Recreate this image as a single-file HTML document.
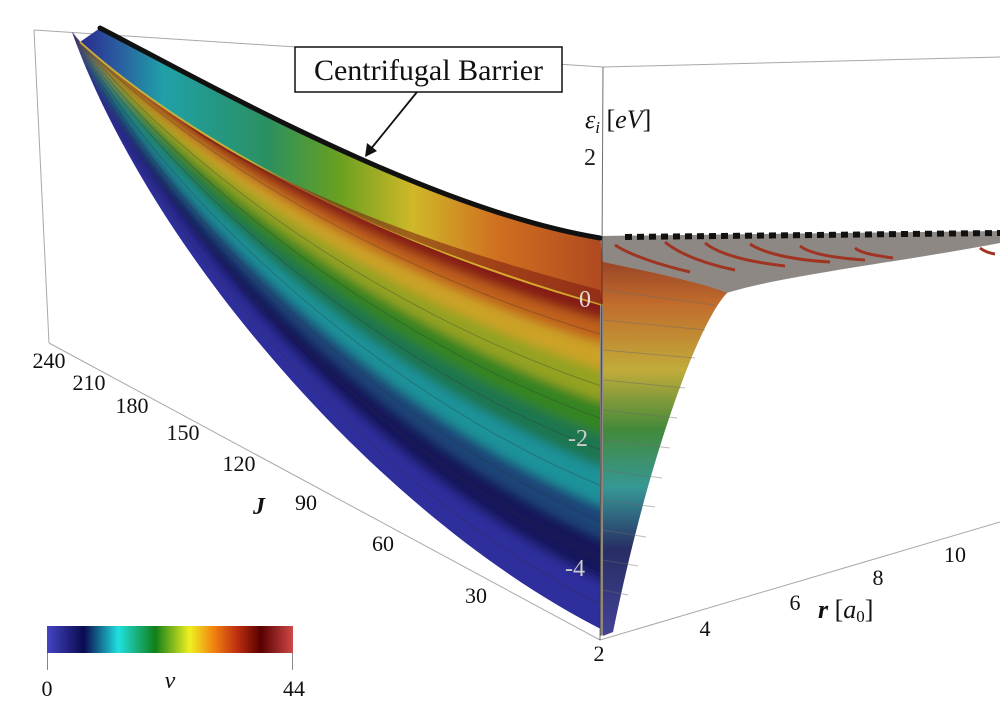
<!DOCTYPE html>
<html><head><meta charset="utf-8"><style>
html,body{margin:0;padding:0;background:#fff;}
#wrap{position:relative;width:1000px;height:718px;overflow:hidden;background:#fff;font-family:"Liberation Serif",serif;}
svg{position:absolute;left:0;top:0;}
</style></head><body><div id="wrap">
<svg width="1000" height="718">
<defs>
<linearGradient id="up" gradientUnits="userSpaceOnUse" x1="80" y1="0" x2="600" y2="0">
<stop offset="0" stop-color="#2a2a90"/>
<stop offset="0.07" stop-color="#2a5aa0"/>
<stop offset="0.16" stop-color="#20a0a8"/>
<stop offset="0.36" stop-color="#2a9060"/>
<stop offset="0.5" stop-color="#6aa020"/>
<stop offset="0.64" stop-color="#d0b828"/>
<stop offset="0.8" stop-color="#d07020"/>
<stop offset="1" stop-color="#b04a20"/>
</linearGradient>
<linearGradient id="rt" gradientUnits="userSpaceOnUse" x1="0" y1="245" x2="0" y2="636">
<stop offset="0" stop-color="#8a2a18"/>
<stop offset="0.15" stop-color="#c86820"/>
<stop offset="0.32" stop-color="#c8b030"/>
<stop offset="0.47" stop-color="#3a8a30"/>
<stop offset="0.62" stop-color="#2a9a98"/>
<stop offset="0.78" stop-color="#1a2060"/>
<stop offset="1" stop-color="#3a3a9a"/>
</linearGradient>
<linearGradient id="cb" x1="0" y1="0" x2="1" y2="0">
<stop offset="0" stop-color="#4444c4"/>
<stop offset="0.15" stop-color="#0a0a50"/>
<stop offset="0.29" stop-color="#20e0e0"/>
<stop offset="0.44" stop-color="#108018"/>
<stop offset="0.58" stop-color="#f0f020"/>
<stop offset="0.68" stop-color="#f08010"/>
<stop offset="0.77" stop-color="#c03010"/>
<stop offset="0.87" stop-color="#580000"/>
<stop offset="1" stop-color="#d04848"/>
</linearGradient>
<clipPath id="lc"><path d="M80,42 C200,150 400,250 603,305 L609,633 C380,520 150,250 72,32 Z"/></clipPath>
<filter id="bl" x="-5%" y="-5%" width="110%" height="110%"><feGaussianBlur stdDeviation="5"/></filter>
</defs>
<g stroke="#a8a8a8" stroke-width="1" fill="none">
<line x1="34" y1="30" x2="603" y2="67"/>
<line x1="603" y1="67" x2="1000" y2="57"/>
<line x1="34" y1="30" x2="49" y2="343"/>
<line x1="49" y1="343" x2="600" y2="640"/>
<line x1="600" y1="640" x2="1000" y2="522"/>
</g>
<!-- lower surface bands -->
<g clip-path="url(#lc)">
<rect x="0" y="0" width="700" height="700" fill="#2e2e9c"/>
<g filter="url(#bl)">
<path d="M40,0 C200,150 400,250 640,290 L609,650 C380,520 150,250 60,20 Z" fill="#2e2e9c"/>
<path d="M40,0 C200,150 400,250 640,290 L608.1,583.8 C383,479.5 157.5,235 73.2,33.5 Z" fill="#18185a"/>
<path d="M40,0 C200,150 400,250 640,290 L607.3,541.2 C385.6,444.4 164,222 74.2,34.8 Z" fill="#1c4478"/>
<path d="M40,0 C200,150 400,250 640,290 L606.7,508.4 C387.6,417.4 169,212 75,35.8 Z" fill="#1e9299"/>
<path d="M40,0 C200,150 400,250 640,290 L606,469 C390,385 175,200 76,37 Z" fill="#1c7650"/>
<path d="M40,0 C200,150 400,250 640,290 L605.4,436.2 C392,358 180,190 76.8,38 Z" fill="#368420"/>
<path d="M40,0 C200,150 400,250 640,290 L604.8,403.4 C394,331 185,180 77.6,39 Z" fill="#94a222"/>
<path d="M40,0 C200,150 400,250 640,290 L604.2,370.6 C396,304 190,170 78.4,40 Z" fill="#cca228"/>
<path d="M40,0 C200,150 400,250 640,290 L603.7,344.4 C397.6,282.4 194,162 79,40.8 Z" fill="#c0601e"/>
<path d="M40,0 C200,150 400,250 640,290 L603.3,321.4 C399,263.5 197.5,155 79.6,41.5 Z" fill="#861a12"/>
</g>
</g>
<g stroke="#303030" stroke-width="1" fill="none" opacity="0.3">
<path d="M79,41 C195,160 398,275 603.5,335"/>
<path d="M78,39 C188,175 395,318 604.5,387"/>
<path d="M77,38 C182,185 393,345 605,420"/>
<path d="M76,37 C177,195 391,372 605.7,452"/>
<path d="M75,36 C172,206 389,400 606.3,488"/>
<path d="M74.6,35 C166,217 386,430 607,525"/>
<path d="M74,34 C160,228 384,462 607.7,562"/>
<path d="M73,33 C154,242 381,500 608.5,608"/>
</g>
<!-- grey surface -->
<path d="M600,236 L1000,231 L1000,243 C 900,262 780,276 727,293 C 700,320 650,450 613,632 L600,636 Z" fill="#8d8884"/>
<path d="M603,262 C 650,272 700,282 727,293 C 700,320 650,450 613,632 L603,636 Z" fill="url(#rt)" opacity="0.88"/>
<g stroke="#6a6a6a" stroke-width="1" opacity="0.45">
<line x1="603" y1="290" x2="715" y2="305"/><line x1="603" y1="320" x2="705" y2="330"/>
<line x1="603" y1="350" x2="695" y2="358"/><line x1="603" y1="380" x2="685" y2="388"/>
<line x1="603" y1="410" x2="677" y2="418"/><line x1="603" y1="440" x2="670" y2="448"/>
<line x1="603" y1="470" x2="662" y2="478"/><line x1="603" y1="500" x2="655" y2="507"/>
<line x1="603" y1="530" x2="646" y2="537"/><line x1="603" y1="560" x2="638" y2="566"/>
<line x1="603" y1="590" x2="628" y2="595"/>
</g>
<!-- upper layer -->
<path d="M100,28 C 210,85 430,210 600,238 L 603,262 L603,305 C 400,250 200,150 80,42 Z" fill="url(#up)"/>
<path d="M80,42 C 200,150 400,250 603,305" stroke="#e0c030" stroke-width="2" fill="none" opacity="0.8"/>
<path d="M600,290 C 450,250 300,200 180,120 L 200,135 C 330,215 470,265 603,305 Z" fill="#7a1a10" opacity="0.55"/>
<g stroke="#a03422" stroke-width="3" fill="none">
<path d="M615,245 C 630,255 660,265 690,272"/>
<path d="M665,242 C 680,255 710,265 735,270"/>
<path d="M705,243 C 720,255 750,262 785,266"/>
<path d="M750,244 C 765,254 795,260 830,262"/>
<path d="M800,246 C 810,254 835,258 865,260"/>
<path d="M855,248 C 862,254 880,256 893,258"/>
<path d="M980,248 C 985,252 990,253 995,254"/>
</g>
<path d="M100,28 C 210,85 430,210 600,238" stroke="#111" stroke-width="5" fill="none" stroke-linecap="round"/>
<line x1="625" y1="237" x2="1000" y2="233" stroke="#111" stroke-width="6" stroke-dasharray="7,5"/>
<line x1="603" y1="67" x2="600" y2="640" stroke="#333" stroke-width="1" opacity="0.7"/>
<rect x="295" y="47" width="267" height="45" fill="#fff" stroke="#111" stroke-width="1.5"/>
<text x="428.5" y="80" font-size="30" text-anchor="middle" fill="#111" font-family="Liberation Serif,serif">Centrifugal Barrier</text>
<line x1="417" y1="92" x2="370" y2="150" stroke="#111" stroke-width="1.8"/>
<polygon points="365,157 367,143 377,151" fill="#111"/>
<text x="585" y="128" font-size="26" font-style="italic" fill="#111">ε<tspan font-size="17" dy="5">i</tspan><tspan dy="-5" font-style="normal"> [</tspan>eV<tspan font-style="normal">]</tspan></text>
<text x="584" y="165" font-size="24" fill="#222">2</text>
<text x="579" y="307" font-size="24" fill="#ddd">0</text>
<text x="568" y="446" font-size="24" fill="#ccc">-2</text>
<text x="565" y="576" font-size="24" fill="#ccc">-4</text>
<g font-size="22" fill="#111" text-anchor="middle">
<text x="49" y="368">240</text>
<text x="89" y="390">210</text>
<text x="132" y="413">180</text>
<text x="183" y="440">150</text>
<text x="239" y="471">120</text>
<text x="306" y="510">90</text>
<text x="383" y="551">60</text>
<text x="476" y="603">30</text>
<text x="599" y="661">2</text>
<text x="705" y="636">4</text>
<text x="795" y="610">6</text>
<text x="878" y="585">8</text>
<text x="955" y="562">10</text>
</g>
<text x="259" y="514" font-size="24" font-style="italic" font-weight="bold" text-anchor="middle" fill="#111">J</text>
<text x="818" y="618" font-size="26" fill="#111"><tspan font-style="italic" font-weight="bold">r</tspan> [<tspan font-style="italic">a</tspan><tspan font-size="17" dy="4">0</tspan><tspan dy="-4">]</tspan></text>
<rect x="47" y="626" width="246" height="27" fill="url(#cb)"/>
<line x1="47.5" y1="653" x2="47.5" y2="670" stroke="#888" stroke-width="1"/>
<line x1="292.5" y1="653" x2="292.5" y2="670" stroke="#888" stroke-width="1"/>
<text x="47" y="696" font-size="22" text-anchor="middle" fill="#111">0</text>
<text x="170" y="688" font-size="24" font-style="italic" text-anchor="middle" fill="#111">v</text>
<text x="294" y="696" font-size="22" text-anchor="middle" fill="#111">44</text>
</svg>
</div></body></html>
